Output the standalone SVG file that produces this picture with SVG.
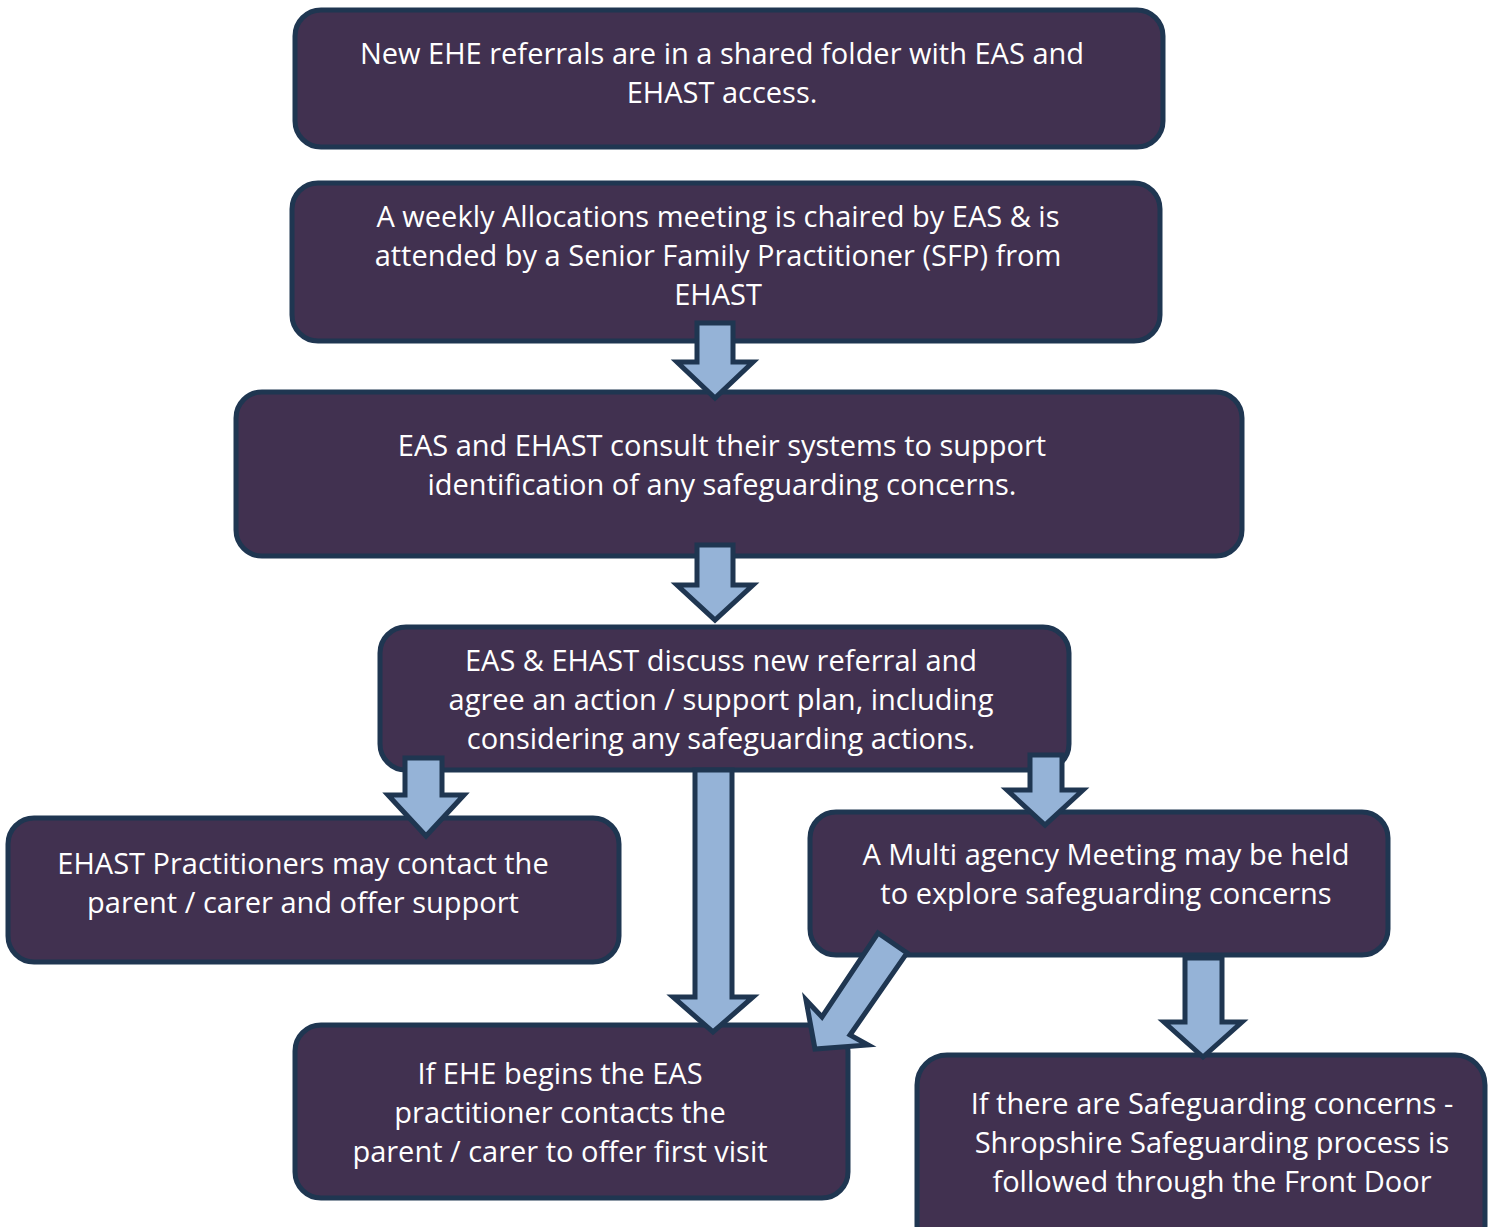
<svg xmlns="http://www.w3.org/2000/svg" width="1488" height="1227" viewBox="0 0 1488 1227">
<style>
.box{fill:#413150;stroke:#1f3651;stroke-width:5}
.arr{fill:#95b3d7;stroke:#1f3651;stroke-width:5;stroke-linejoin:miter}
text{font-family:"Open Sans","Noto Sans",sans-serif;font-size:29px;fill:#ffffff;text-anchor:middle}
</style>
<rect width="1488" height="1227" fill="#ffffff"/>
<g id="n1"><rect class="box" x="295" y="10" width="868" height="137" rx="26"/>
<text x="722" y="64">New EHE referrals are in a shared folder with EAS and</text>
<text x="722" y="103">EHAST access.</text></g>
<g id="n2"><rect class="box" x="292" y="183" width="868" height="158" rx="26"/>
<text x="718" y="227">A weekly Allocations meeting is chaired by EAS &amp; is</text>
<text x="718" y="266">attended by a Senior Family Practitioner (SFP) from</text>
<text x="718" y="305">EHAST</text></g>
<g id="n3"><rect class="box" x="236" y="392" width="1006" height="164" rx="26"/>
<text x="722" y="456">EAS and EHAST consult their systems to support</text>
<text x="722" y="495">identification of any safeguarding concerns.</text></g>
<g id="n4"><rect class="box" x="380" y="627" width="689" height="143" rx="26"/>
<text x="721" y="671">EAS &amp; EHAST discuss new referral and</text>
<text x="721" y="710">agree an action / support plan, including</text>
<text x="721" y="749">considering any safeguarding actions.</text></g>
<g id="n5"><rect class="box" x="8" y="818" width="611" height="144" rx="26"/>
<text x="303" y="874">EHAST Practitioners may contact the</text>
<text x="303" y="913">parent / carer and offer support</text></g>
<g id="n6"><rect class="box" x="810" y="812" width="578" height="143" rx="26"/>
<text x="1106" y="865">A Multi agency Meeting may be held</text>
<text x="1106" y="904">to explore safeguarding concerns</text></g>
<g id="n7"><rect class="box" x="295" y="1025" width="553" height="173" rx="26"/>
<text x="560" y="1084">If EHE begins the EAS</text>
<text x="560" y="1123">practitioner contacts the</text>
<text x="560" y="1162">parent / carer to offer first visit</text></g>
<g id="n8"><rect class="box" x="917" y="1055" width="568" height="200" rx="30"/>
<text x="1212" y="1114">If there are Safeguarding concerns -</text>
<text x="1212" y="1153">Shropshire Safeguarding process is</text>
<text x="1212" y="1192">followed through the Front Door</text></g>
<g id="connectors">
<polygon class="arr" points="697,323 733,323 733,362 753,362 715,398 677,362 697,362"/>
<polygon class="arr" points="697,545 733,545 733,585 753,585 715,620 677,585 697,585"/>
<polygon class="arr" points="405,758 442,758 442,795 464,795 426,836 388,795 405,795"/>
<polygon class="arr" points="695,770 732,770 732,997 753,997 713,1032 673,997 695,997"/>
<polygon class="arr" points="1030,755 1062,755 1062,790 1083,790 1045,825 1007,790 1030,790"/>
<polygon class="arr" points="1185,958 1222,958 1222,1022 1242,1022 1203,1057 1164,1022 1185,1022"/>
<polygon class="arr" points="878,933 907,953 850,1035 868,1045 815,1049 806,1000 822,1017"/>
</g>
</svg>
